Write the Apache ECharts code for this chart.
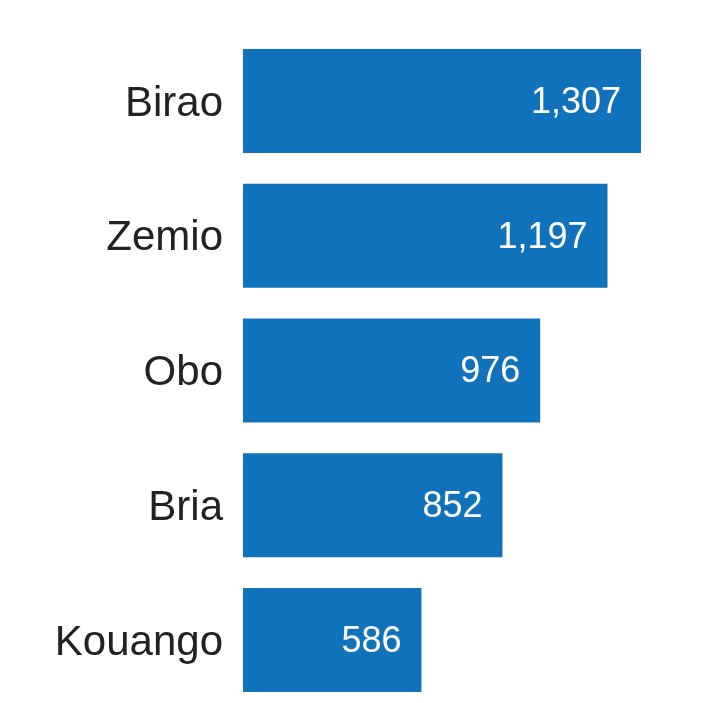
<!DOCTYPE html>
<html>
<head>
<meta charset="utf-8">
<script src="https://cdn.jsdelivr.net/npm/echarts@6/dist/echarts.min.js"></script>
<style>
  html, body { margin: 0; padding: 0; background: #fff; }
  #chart { width: 714px; height: 703px; }
</style>
</head>
<body>
<div id="chart"></div>
<script>
const towns = ["Birao", "Zemio", "Obo", "Bria", "Kouango"];
const counts = [1307, 1197, 976, 852, 586];

const chart = echarts.init(document.getElementById("chart"));

// category points sit on the grid edges, so the grid spans first to last bar centre
const option = {
  animation: false,
  grid: { left: 243, top: 101, width: 398, height: 539 },
  xAxis: {
    type: "value",
    min: 0,
    max: 1307,
    show: false
  },
  yAxis: {
    type: "category",
    data: towns,
    inverse: true,
    boundaryGap: false,
    axisLine: { show: false },
    axisTick: { show: false },
    axisLabel: {
      margin: 20,
      formatter: v => "{t|" + v + "}",
      rich: {
        t: {
          fontSize: 42,
          color: "#222222",
          padding: [6, 0, 0, 0],
          fontFamily: "Arial, 'Liberation Sans', sans-serif"
        }
      }
    }
  },
  series: [{
    type: "bar",
    data: counts,
    barWidth: 104,
    itemStyle: { color: "#1072BA" },
    label: {
      show: true,
      position: "insideRight",
      distance: 20,
      offset: [0, 2],
      color: "#ffffff",
      fontSize: 36,
      fontFamily: "Arial, 'Liberation Sans', sans-serif",
      formatter: p => p.value.toLocaleString("en-US")
    }
  }]
};

chart.setOption(option);
</script>
</body>
</html>
